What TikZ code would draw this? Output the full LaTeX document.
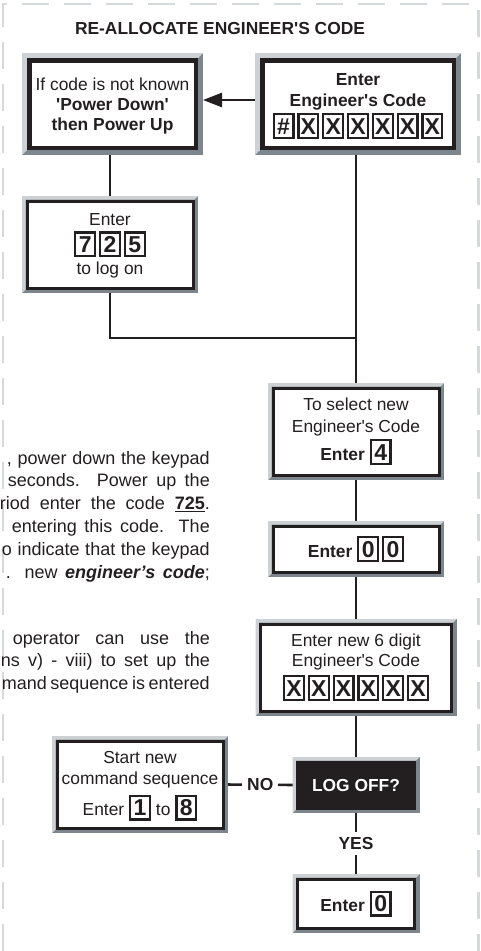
\documentclass[tikz,border=0pt]{standalone}
\usepackage{fontspec}
\setmainfont{Liberation Sans}
\usetikzlibrary{positioning,arrows.meta,backgrounds}

\definecolor{ink}{HTML}{231F20}
\definecolor{bevlight}{HTML}{CDD1D5}
\definecolor{bevdark}{HTML}{7E868D}
\definecolor{edge}{HTML}{D6D9DC}

% keypad key and the gap between keys
\newcommand{\kp}[1]{{\setlength{\fboxsep}{0pt}\setlength{\fboxrule}{2.2pt}\fbox{\makebox[17.6pt]{\rule[-2.55pt]{0pt}{21.6pt}\fontsize{23}{23}\fontseries{b}\selectfont\textbf{#1}}}}}
\newcommand{\kg}{\hspace{2.8pt}}
\newcommand{\sq}{\textquotesingle}
\newcommand{\bxfont}{\fontsize{17.4}{20}\selectfont\lineskiplimit=-40pt\relax}
\newcommand{\txfont}{\fontsize{18}{22}\selectfont}

\begin{document}
\begin{tikzpicture}[
  x=1pt, y=-1pt,
  font=\bxfont,
  text=ink,
  hd/.style={font=\bxfont\bfseries, inner sep=0pt},
  pnl/.style={draw=ink, line width=3pt, fill=white, align=center, inner sep=0pt},
  pnlthick/.style={pnl, line width=4.5pt},
  lnk/.style={line width=2.6pt, draw=ink},
  arr/.style={-{Triangle[length=19pt,width=14pt]}, line width=2.6pt, draw=ink},
  tag/.style={font=\bxfont\bfseries, fill=white, inner sep=5pt},
  para/.style={anchor=base east, inner sep=0pt, font=\txfont},
]
\useasboundingbox (0,0) rectangle (480,951);

%% ============ page edge ============
\draw[edge, line width=2.5pt, dash pattern=on 27pt off 15pt] (3,951) -- (3,4) -- (478.5,4) -- (478.5,951);

%% ============ side text (cut at the page edge) ============
\node[para] (t1) at (210,464) {\makebox[203pt][s]{, power down the keypad}};
\node[para] (t2) at (210,486.8) {\makebox[202pt][s]{seconds. Power up the}};
\node[para] (t3) at (210,509.6) {\makebox[210pt][s]{riod enter the code \textbf{\underline{725}}.}};
\node[para] (t4) at (210,532.4) {\makebox[198pt][s]{entering this code. The}};
\node[para] (t5) at (210,555.2) {\makebox[208pt][s]{o indicate that the keypad}};
\node[para] (t6) at (210,578) {\makebox[204pt][s]{. new \textbf{\textit{engineer’s code}};}};
\node[para] (u1) at (210,644) {\makebox[197pt][s]{operator can use the}};
\node[para] (u2) at (210,666.5) {\makebox[209pt][s]{ns v) - viii) to set up the}};
\node[para] (u3) at (210,689) {\makebox[208pt][s]{mand sequence is entered}};

%% ============ title ============
\node[hd] (title) at (220,29) {RE-ALLOCATE ENGINEER\sq S CODE};

%% ============ panels ============
\node[pnlthick, minimum width=166.5pt, minimum height=87.5pt] (known) at (112.5,104)
  {\rule{0pt}{17.6pt}If code is not known\\\textbf{\sq Power Down\sq}\\\textbf{then Power Up}};
\node[pnlthick, minimum width=191.5pt, minimum height=87.5pt, font=\bxfont\bfseries] (code) at (358,104)
  {\rule{0pt}{16.4pt}Enter\\[1pt]Engineer\sq s Code\\[8pt]\kp{\#}\kg\kp{X}\kg\kp{X}\kg\kp{X}\kg\kp{X}\kg\kp{X}\kg\kp{X}};
\node[pnl, minimum width=166pt, minimum height=87pt] (logon) at (110,244.5)
  {\rule{0pt}{14.4pt}Enter\\[7.2pt]\kp{7}\kg\kp{2}\kg\kp{5}\\[1.8pt]to log on};
\node[pnl, minimum width=166pt, minimum height=87pt] (select) at (356,431.5)
  {To select new\\[2pt]Engineer\sq s Code\\[7.8pt]\textbf{Enter} \kp{4}};
\node[pnl, minimum width=166pt, minimum height=46pt] (zero) at (356,549)
  {\textbf{Enter} \kp{0}\kg\kp{0}};
\node[pnl, minimum width=191pt, minimum height=87pt] (newcode) at (356,667.5)
  {Enter new 6 digit\\Engineer\sq s Code\\[9.5pt]\kp{X}\kg\kp{X}\kg\kp{X}\kg\kp{X}\kg\kp{X}\kg\kp{X}};
\node[pnl, fill=ink, text=white, minimum width=117pt, minimum height=46pt] (logoff) at (356,785)
  {\textbf{LOG OFF?}};
\node[pnl, minimum width=166pt, minimum height=87pt] (start) at (140,784.5)
  {\rule{0pt}{15.6pt}Start new\\[1pt]command sequence\\[11pt]Enter \kp{1} to \kp{8}};
\node[pnl, minimum width=117pt, minimum height=49pt] (last) at (356,903.5)
  {\textbf{Enter} \kp{0}};

\coordinate (jn) at (356,338);

%% ============ flows and bevels ============
\begin{scope}[on background layer]
  \draw[arr, shorten >=5pt] ([yshift=4pt]code.west) -- ([yshift=4pt]known.east);
  \draw[lnk] (known.south -| logon.north) -- (logon.north);
  \draw[lnk] (logon.south) |- (jn);
  \draw[lnk] (code.south -| select.north) -- (select.north);
  \draw[lnk] (select.south) -- (zero.north);
  \draw[lnk] (zero.south) -- (newcode.north);
  \draw[lnk] (newcode.south) -- (logoff.north);
  \draw[lnk] (logoff.west) -- node[tag] (no) {NO} (start.east);
  \draw[lnk] (logoff.south) -- node[tag] (yes) {YES} (last.north);
  % grey bevel round each panel
  \foreach \n/\g in {known/5,code/5,logon/3.5,select/3.5,zero/3.5,newcode/3.5,logoff/3.5,start/3.5,last/3.5} {
    \fill[bevdark] ([shift={(-\g pt,\g pt)}]\n.north west) rectangle ([shift={(\g pt,-\g pt)}]\n.south east);
    \fill[bevlight] ([shift={(-\g pt,\g pt)}]\n.north west) -- ([shift={(\g pt,\g pt)}]\n.north east)
      -- (\n.north east) -- (\n.north west) -- (\n.south west) -- ([shift={(-\g pt,-\g pt)}]\n.south west) -- cycle;
  }
\end{scope}

\end{tikzpicture}
\end{document}
